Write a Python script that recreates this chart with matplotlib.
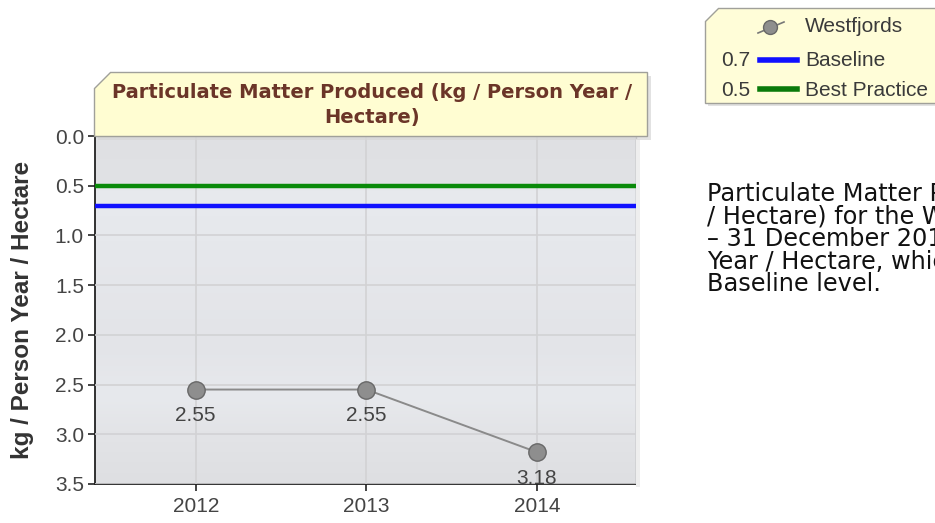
import matplotlib
matplotlib.use("Agg")
import matplotlib.pyplot as plt
import numpy as np
from matplotlib.patches import Polygon, Rectangle
from matplotlib.colors import LinearSegmentedColormap

years = ["2012", "2013", "2014"]
values = [2.55, 2.55, 3.18]
value_labels = ["2.55", "2.55", "3.18"]
baseline = 0.7
best_practice = 0.5
y_ticks = [0.0, 0.5, 1.0, 1.5, 2.0, 2.5, 3.0, 3.5]
title = "Particulate Matter Produced (kg / Person Year /\nHectare)"
ylabel = "kg / Person Year / Hectare"
series_name = "Westfjords"
summary_lines = [
    "Particulate Matter Produced (kg / Person Year",
    "/ Hectare) for the Westfjords for 1 January 2014",
    "– 31 December 2014 was 3.18 kg / Person",
    "Year / Hectare, which is worse than the",
    "Baseline level.",
]

W, H = 935, 523
fig = plt.figure(figsize=(W / 100, H / 100), dpi=100)
fig.patch.set_facecolor("white")

def fx(px):
    return px / W

def fy(py):
    return 1 - py / H

# axes
ax_l, ax_r, ax_t, ax_b = 95, 636, 136, 484
ax = fig.add_axes([fx(ax_l), fy(ax_b), fx(ax_r - ax_l), (ax_b - ax_t) / H])
x = np.arange(len(years))
x0, x1 = -0.59, 2.58
ax.set_xlim(x0, x1)
ax.set_ylim(3.5, 0.0)

# plot-area shadow on right
fig.patches.append(Rectangle((fx(ax_r), fy(ax_b + 3)), fx(4), (ax_b - ax_t) / H,
                             transform=fig.transFigure, facecolor="#eeeeee", edgecolor="none", zorder=0))

# gradient background
cmap = LinearSegmentedColormap.from_list(
    "bg", [(0.0, "#dfe0e3"), (0.13, "#e1e2e5"), (0.16, "#e8eaee"), (0.3, "#e6e8ec"),
           (0.6, "#e3e4e8"), (0.75, "#e7e9ed"), (0.85, "#e3e4e7"), (1.0, "#dedfe2")])
grad = np.linspace(0, 1, 256).reshape(-1, 1)
ax.imshow(grad, extent=[x0, x1, 3.5, 0.0], aspect="auto", cmap=cmap, zorder=0)

ax.set_xticks(x)
ax.set_xticklabels(years)
ax.set_yticks(y_ticks)
ax.set_yticklabels([f"{v:.1f}" for v in y_ticks])
ax.grid(True, color="#d2d2d4", linewidth=1.2, zorder=1)
ax.set_axisbelow(False)
ax.spines["top"].set_visible(False)
ax.spines["right"].set_color("#9a9a9a")
ax.spines["right"].set_linewidth(1.0)
for s in ["left", "bottom"]:
    ax.spines[s].set_color("#222222")
    ax.spines[s].set_linewidth(1.3)
ax.tick_params(axis="both", colors="#222222", labelcolor="#444444", length=5,
               width=1.2, labelsize=15)
ax.tick_params(axis="y", pad=3)
ax.tick_params(axis="x", pad=4)
for lab in ax.get_xticklabels() + ax.get_yticklabels():
    lab.set_family("Liberation Sans")

ax.axhline(best_practice, color="#0a8a0a", linewidth=3.2, zorder=3)
ax.axhline(baseline, color="#1010ff", linewidth=3.2, zorder=3)

ax.plot(x, values, color="#8a8a8a", linewidth=1.4, marker="o", markersize=12.5,
        markerfacecolor="#8e8e8e", markeredgecolor="#686868", markeredgewidth=1, zorder=4)
for xi, v, t in zip(x, values, value_labels):
    ax.annotate(t, (xi, v), xytext=(0, -12), textcoords="offset points", ha="center",
                va="top", fontsize=15, color="#444444", family="Liberation Sans", zorder=5,
                annotation_clip=False)

fig.text(fx(23), fy(310), ylabel, rotation=90, ha="center", va="center", fontsize=17.5,
         fontweight="bold", color="#333333", family="Liberation Sans")

# title box
tl, tr, tt, tb = 94, 647, 72, 136
cut = 16
shadow = Polygon([(fx(tl + cut + 4), fy(tt + 4)), (fx(tr + 4), fy(tt + 4)), (fx(tr + 4), fy(tb + 4)),
                  (fx(tl + 4), fy(tb + 4)), (fx(tl + 4), fy(tt + cut + 4))],
                 closed=True, transform=fig.transFigure, facecolor="#d6d6d6", edgecolor="none",
                 alpha=0.7, zorder=5)
fig.patches.append(shadow)
box = Polygon([(fx(tl + cut), fy(tt)), (fx(tr), fy(tt)), (fx(tr), fy(tb)), (fx(tl), fy(tb)),
               (fx(tl), fy(tt + cut))], closed=True, transform=fig.transFigure,
              facecolor="#fffdd2", edgecolor="#a0a09a", linewidth=1, zorder=6)
fig.patches.append(box)
fig.text(fx(372), fy(93), title.split("\n")[0], ha="center", va="center", fontsize=14,
         fontweight="bold", color="#6b3528", family="DejaVu Sans", zorder=7)
fig.text(fx(372), fy(118), title.split("\n")[1], ha="center", va="center", fontsize=14,
         fontweight="bold", color="#6b3528", family="DejaVu Sans", zorder=7)

# legend box
ll, lr, lt, lb = 705, 945, 8, 103
lcut = 13
lshadow = Polygon([(fx(ll + lcut + 3), fy(lt + 3)), (fx(lr + 3), fy(lt + 3)), (fx(lr + 3), fy(lb + 3)),
                   (fx(ll + 3), fy(lb + 3)), (fx(ll + 3), fy(lt + lcut + 3))],
                  closed=True, transform=fig.transFigure, facecolor="#d6d6d6", edgecolor="none",
                  alpha=0.7, zorder=5)
fig.patches.append(lshadow)
lbox = Polygon([(fx(ll + lcut), fy(lt)), (fx(lr), fy(lt)), (fx(lr), fy(lb)), (fx(ll), fy(lb)),
                (fx(ll), fy(lt + lcut))], closed=True, transform=fig.transFigure,
               facecolor="#fffdd8", edgecolor="#a0a09a", linewidth=1, zorder=6)
fig.patches.append(lbox)

leg_font = dict(fontsize=15, color="#3a3a3a", family="Liberation Sans", va="center", zorder=8)
# row 1: series icon
fig.add_artist(plt.Line2D([fx(758), fx(784)], [fy(33), fy(22)], color="#777777", linewidth=1.2,
                          transform=fig.transFigure, zorder=7))
fig.add_artist(plt.Line2D([fx(770)], [fy(27)], marker="o", markersize=10, color="#8e8e8e",
                          markeredgecolor="#686868", transform=fig.transFigure, zorder=8))
fig.text(fx(805), fy(27), series_name, **leg_font)
# row 2 baseline
fig.text(fx(750), fy(61), f"{baseline}", ha="right", **leg_font)
fig.add_artist(plt.Line2D([fx(760), fx(797)], [fy(60), fy(60)], color="#1010ff", linewidth=4,
                          transform=fig.transFigure, zorder=7))
fig.text(fx(805), fy(61), "Baseline", **leg_font)
# row 3 best practice
fig.text(fx(750), fy(90), f"{best_practice}", ha="right", **leg_font)
fig.add_artist(plt.Line2D([fx(760), fx(797)], [fy(89), fy(89)], color="#0a7a0a", linewidth=4,
                          transform=fig.transFigure, zorder=7))
fig.text(fx(805), fy(90), "Best Practice", **leg_font)

# summary text
for i, line in enumerate(summary_lines):
    fig.text(fx(707), fy(194 + i * 22.6), line, fontsize=17.3, color="#111111",
             family="DejaVu Sans", va="center", ha="left")

fig.savefig("out.png", dpi=100)
